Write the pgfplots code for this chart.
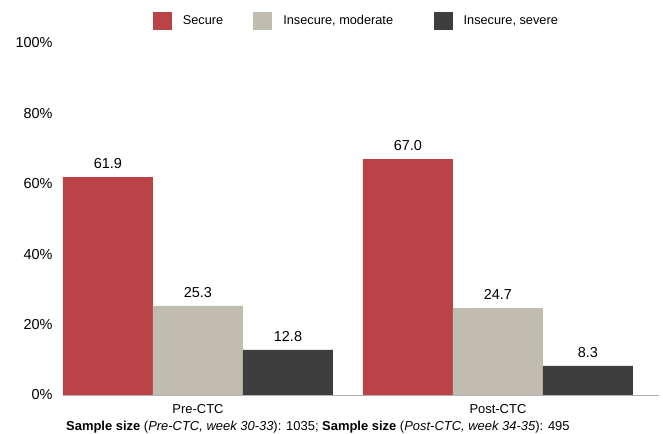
\documentclass[border=0pt]{standalone}
\usepackage{pgfplots}
\pgfplotsset{compat=1.18}
\usepackage{fontspec}
\setmainfont{Liberation Sans}
\usetikzlibrary{calc}
\definecolor{cSec}{RGB}{185,67,70}
\definecolor{cMod}{RGB}{192,189,176}
\definecolor{cSev}{RGB}{62,62,62}
\begin{document}
\begin{tikzpicture}
\begin{axis}[
  name=ax,
  scale only axis,
  width=596bp, height=352bp,
  ybar=0pt, bar width=90bp,
  xmin=-0.45, xmax=1.537,
  ymin=0, ymax=100,
  xtick={0,1}, xticklabels={Pre-CTC,Post-CTC},
  ytick={0,20,40,60,80,100},
  yticklabel={\pgfmathprintnumber{\tick}\%},
  /pgf/number format/assume math mode=true,
  major tick length=0pt,
  axis x line=bottom, axis y line=left,
  x axis line style={-, draw=gray!60, line width=0.8pt},
  y axis line style={draw=none},
  yticklabel style={font=\fontsize{14.5}{16}\selectfont, xshift=-7bp},
  xticklabel style={font=\fontsize{13}{15}\selectfont, yshift=-6bp},
  nodes near coords,
  nodes near coords style={font=\fontsize{14.5}{16}\selectfont, yshift=5bp,
    /pgf/number format/fixed, /pgf/number format/fixed zerofill,
    /pgf/number format/precision=1, /pgf/number format/assume math mode=true},
  legend columns=3,
  legend style={draw=none, fill=none, inner sep=0pt, at={(0.1505,1)}, yshift=22bp, anchor=west,
    font=\fontsize{12.8}{15}\selectfont,
    /tikz/column 2/.style={column sep=28bp},
    /tikz/column 4/.style={column sep=38.5bp}},
  legend image code/.code={\fill[#1] (0bp,-8.75bp) rectangle (19bp,8.75bp); \path (28bp,0bp);},
]
\addplot[fill=cSec, draw=none, bar shift=-90bp] coordinates {(0,61.9) (1,67.0)};
\addplot[fill=cMod, draw=none, bar shift=0bp] coordinates {(0,25.3) (1,24.7)};
\addplot[fill=cSev, draw=none, bar shift=90bp] coordinates {(0,12.8) (1,8.3)};
\legend{Secure,{Insecure, moderate},{Insecure, severe}}
\end{axis}
\node[anchor=west, font=\fontsize{13}{15}\selectfont, inner sep=0pt] at ($(ax.south west)+(3bp,-32bp)$)
  {\textbf{Sample size} (\textit{Pre-CTC, week 30-33}): 1035; \textbf{Sample size} (\textit{Post-CTC, week 34-35}): 495};
\pgfresetboundingbox
\useasboundingbox ($(ax.south west)+(-63bp,-39bp)$) rectangle ($(ax.north east)+(4bp,43bp)$);
\end{tikzpicture}
\end{document}
